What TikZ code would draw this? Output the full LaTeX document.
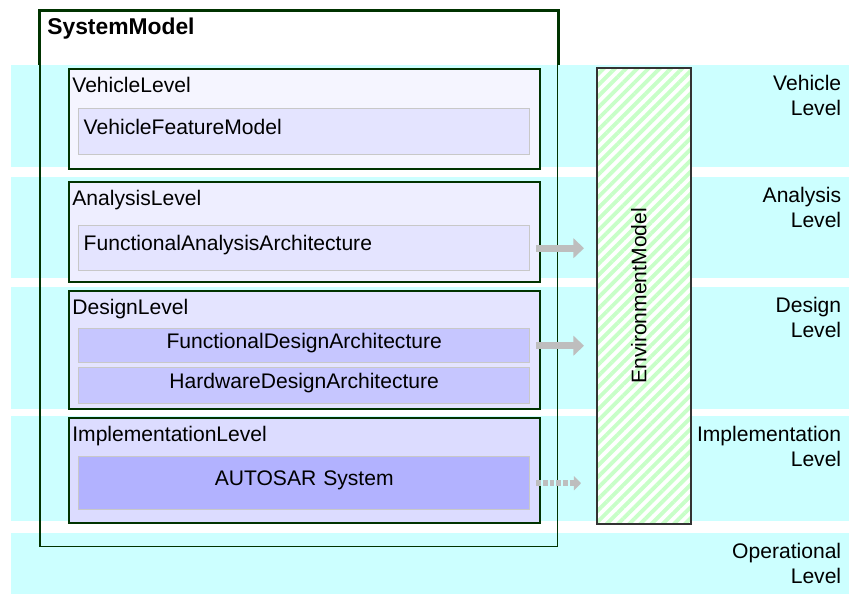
\documentclass[tikz,border=0pt]{standalone}
\usepackage{fontspec}
\setmainfont{Liberation Sans}
\usetikzlibrary{arrows.meta,patterns.meta}

\definecolor{bandcyan}{HTML}{CCFFFF}
\definecolor{dunkelgruen}{HTML}{003300}
\definecolor{streifen}{HTML}{C8FFC8}
\definecolor{rahmengrau}{HTML}{C8C8C8}
\definecolor{pfeilgrau}{HTML}{BEBEBE}
\definecolor{ebeneA}{HTML}{F5F5FF}
\definecolor{ebeneB}{HTML}{EEEEFF}
\definecolor{ebeneC}{HTML}{E4E4FF}
\definecolor{ebeneD}{HTML}{DCDCFF}
\definecolor{kastenA}{HTML}{E4E4FF}
\definecolor{kastenB}{HTML}{C6C6FF}
\definecolor{kastenC}{HTML}{B2B2FF}

\tikzset{
    schrift/.style={font=\fontsize{12}{14}\selectfont},
    band/.style={anchor=north west, fill=bandcyan, inner sep=0pt, minimum width=16.76cm},
    seitentext/.style={anchor=north east, align=right, inner sep=0pt, xshift=-0.16cm, yshift=-0.2cm, schrift},
    system/.style={anchor=north west, draw=dunkelgruen, line width=0.9pt, inner sep=0pt,
        minimum width=10.36cm, minimum height=10.72cm},
    ebene/.style={anchor=north west, draw=dunkelgruen, line width=1.1pt, inner sep=0pt, minimum width=9.42cm},
    titel/.style={anchor=north west, inner sep=0pt, xshift=0.08cm, yshift=-0.18cm, schrift},
    kasten/.style={anchor=north west, draw=rahmengrau, line width=0.85pt, inner xsep=0.1cm, inner ysep=1pt,
        text width=8.82cm, text height=9pt, text depth=6pt, schrift},
    umwelt/.style={anchor=north west, draw=black!80, line width=1.1pt, preaction={fill=white},
        pattern={Lines[angle=45, distance=4.5pt, line width=2.2pt]}, pattern color=streifen,
        minimum width=1.88cm, minimum height=9.12cm, inner sep=0pt},
    pfeil/.style={draw=pfeilgrau, line width=4pt, -{Triangle[length=6pt, width=11pt]},
        shorten <=0.12cm, shorten >=0.22cm},
    punktpfeil/.style={draw=pfeilgrau, line width=3.4pt, dash pattern=on 2.6pt off 1.2pt,
        -{Triangle[length=4pt, width=8pt]}, shorten <=0.12cm, shorten >=0.28cm}
}

\begin{document}
\begin{tikzpicture}[x=0.02cm, y=-0.02cm]
    \useasboundingbox (0,0) rectangle (849,594);
    \path node[band, minimum height=2.04cm, label={[seitentext]north east:Vehicle\\Level}] (bv) at (11,65) {}
        node[band, minimum height=2.02cm, label={[seitentext]north east:Analysis\\Level}] (ba) at (11,177) {}
        node[band, minimum height=2.44cm, label={[seitentext]north east:Design\\Level}] (bd) at (11,287) {}
        node[band, minimum height=2.1cm, label={[seitentext]north east:Implementation\\Level}] (bi) at (11,416) {}
        node[band, minimum height=1.22cm, label={[seitentext]north east:Operational\\Level}] (bo) at (11,533) {};

    \path node[system, label={[anchor=north west, inner sep=0pt, xshift=0.16cm, yshift=-0.16cm,
            font=\fontsize{13}{15}\selectfont\bfseries]north west:SystemModel}] (sm) at (39,10) {};
    \draw[dunkelgruen, line width=1.7pt] (sm.west |- bv.north) |- (sm.north east) -- (sm.east |- bv.north);

    \path node[ebene, fill=ebeneA, minimum height=2.0cm, label={[titel]north west:VehicleLevel}] (vl) at (68,68) {}
        node[ebene, fill=ebeneB, minimum height=2.0cm, label={[titel]north west:AnalysisLevel}] (al) at (68,181) {}
        node[ebene, fill=ebeneC, minimum height=2.36cm, label={[titel]north west:DesignLevel}] (dl) at (68,290) {}
        node[ebene, fill=ebeneD, minimum height=2.1cm, label={[titel]north west:ImplementationLevel}] (il) at (68,417) {};

    \path node[kasten, fill=kastenA, align=left, minimum height=0.92cm] (vfm) at (78,108) {VehicleFeatureModel}
        node[kasten, fill=kastenA, align=left, minimum height=0.9cm] (faa) at (78,225) {FunctionalAnalysisArchitecture}
        node[kasten, fill=kastenB, align=center, minimum height=0.68cm] (fda) at (78,328) {FunctionalDesignArchitecture}
        node[kasten, fill=kastenB, align=center, minimum height=0.72cm] (hda) at (78,367) {HardwareDesignArchitecture}
        node[kasten, fill=kastenC, align=center, minimum height=1.06cm] (aut) at (78,456) {AUTOSAR System};

    \path node[umwelt, label={[xshift=-0.1cm, rotate=90, schrift]center:EnvironmentModel}] (env) at (595,66) {};

    \draw[pfeil] (faa.east) -- (faa.east -| env.west);
    \draw[pfeil] (fda.east) -- (fda.east -| env.west);
    \draw[punktpfeil] (aut.east) -- (aut.east -| env.west);
\end{tikzpicture}
\end{document}
